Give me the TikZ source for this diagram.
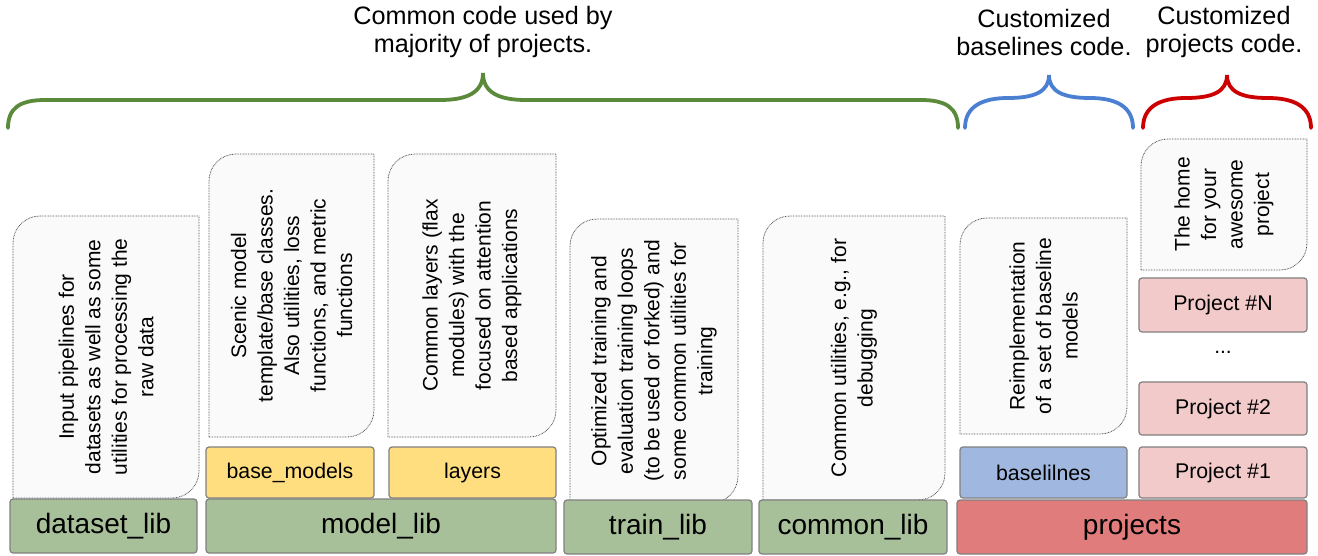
\documentclass[tikz,border=0pt]{standalone}
\usepackage{fontspec}
\setmainfont{Liberation Sans}
\definecolor{libgreen}{HTML}{A8C09A}
\definecolor{subyellow}{HTML}{FFDE80}
\definecolor{subblue}{HTML}{A0B8E0}
\definecolor{subpink}{HTML}{F3CACA}
\definecolor{libred}{HTML}{E07C7C}
\definecolor{boxborder}{HTML}{808080}
\definecolor{bracegreen}{HTML}{5A8A3A}
\definecolor{braceblue}{HTML}{4A7FD2}
\definecolor{bracered}{HTML}{CC0000}
\definecolor{calloutfill}{HTML}{FAFAFA}
\definecolor{calloutline}{HTML}{555555}
\tikzset{
  libbox/.style={draw=boxborder, line width=1.2pt, rounded corners=3pt, inner sep=0pt, outer sep=0pt, text=black},
  mainlib/.style={libbox, font=\fontsize{28}{32}\selectfont},
  sublib/.style={libbox, font=\fontsize{21.3}{25}\selectfont},
  greenbox/.style={mainlib, fill=libgreen},
  redbox/.style={mainlib, fill=libred},
  yellowbox/.style={sublib, fill=subyellow},
  bluebox/.style={sublib, fill=subblue},
  pinkbox/.style={sublib, fill=subpink},
  callout/.style={draw=calloutline, fill=calloutfill, line width=0.8pt, dash pattern=on 0.8pt off 0.8pt},
  callouttext/.style={rotate=90, align=center, inner sep=0pt, font=\fontsize{21}{26.5}\selectfont},
  headtext/.style={align=center, inner sep=0pt, font=\fontsize{25.2}{28}\selectfont},
  bracestyle/.style={line width=3.8pt, line cap=round},
}
\newcommand{\blk}[7]{%
  \pgfmathsetmacro{\myBW}{#5-#3}\pgfmathsetmacro{\myBH}{#6-#4}%
  \node[#2, minimum width=\myBW pt, minimum height=\myBH pt] (#1) at ({(#3+#5)/2},{(#4+#6)/2}) {#7};}
\newcommand{\callbox}[6]{%
  \draw[callout] (#2,#5) -- (#2,{#3+27}) .. controls (#2,{#3+12}) and ({#2+12},#3) .. ({#2+27},#3)
     -- (#4,#3) -- (#4,{#5-27}) .. controls (#4,{#5-12}) and ({#4-12},#5) .. ({#4-27},#5) -- cycle;
  \node[callouttext] (#1) at ({(#2+#4)/2},{(#3+#5)/2}) {#6};}
\begin{document}
\begin{tikzpicture}[x=1pt, y=-1pt]
\useasboundingbox (0,0) rectangle (1318,555);
% header texts
\node[headtext] (hcommon) at (483,32) {Common code used by\\majority of projects.};
\node[headtext] (hbase) at (1044,32) {Customized\\baselines code.};
\node[headtext] (hproj) at (1224,32) {Customized\\projects code.};
% braces
\coordinate (gtip) at (483,73);
\coordinate (btip) at (1049,75);
\coordinate (rtip) at (1227,75);
\draw[bracestyle, draw=bracegreen] (8,128) .. controls (8,108) and (20,100) .. (45,100) -- (440,100)
  .. controls (468,100) and (483,92) .. (gtip) .. controls (483,92) and (498,100) .. (526,100)
  -- (921,100) .. controls (946,100) and (958,108) .. (958,128);
\draw[bracestyle, draw=braceblue] (965,128) .. controls (965,106) and (983,98) .. (1008,98)
  .. controls (1034,98) and (1049,92) .. (btip) .. controls (1049,92) and (1064,98) .. (1090,98)
  .. controls (1115,98) and (1133,106) .. (1133,128);
\draw[bracestyle, draw=bracered] (1143,128) .. controls (1143,106) and (1161,98) .. (1186,98)
  .. controls (1212,98) and (1227,92) .. (rtip) .. controls (1227,92) and (1242,98) .. (1268,98)
  .. controls (1293,98) and (1311,106) .. (1311,128);
% callouts
\callbox{c1}{13}{216}{199}{498}{Input pipelines for\\datasets as well as some\\utilities for processing the\\raw data}
\callbox{c2}{209}{154}{374}{437}{Scenic model\\template/base classes.\\Also utilities, loss\\functions, and metric\\functions}
\callbox{c3}{388}{154}{556}{437}{Common layers (flax\\modules) with the\\focused on attention\\based applications}
\callbox{c4}{570}{219}{738}{503}{Optimized training and\\evaluation training loops\\(to be used or forked) and\\some common utilities for\\training}
\callbox{c5}{763}{216}{945}{500}{Common utilities, e.g., for\\debugging}
\callbox{c6}{960}{218}{1127}{434}{Reimplementation\\of a set of baseline\\models}
\callbox{c7}{1141}{139}{1307}{270}{The home\\for your\\awesome\\project}
% blocks
\blk{dataset}{greenbox}{10}{499}{197}{553}{dataset\_lib}
\blk{model}{greenbox}{206}{499}{556}{553}{model\_lib}
\blk{train}{greenbox}{564}{500}{752}{554}{train\_lib}
\blk{common}{greenbox}{759}{500}{947}{554}{common\_lib}
\blk{projects}{redbox}{957}{500}{1307}{554}{projects}
\blk{basemodels}{yellowbox}{206}{447}{374}{498}{base\_models}
\blk{layers}{yellowbox}{389}{447}{556}{498}{layers}
\blk{baselines}{bluebox}{960}{447}{1127}{498}{baselilnes}
\blk{p1}{pinkbox}{1139}{447}{1307}{498}{Project \#1}
\blk{p2}{pinkbox}{1139}{382}{1307}{435}{Project \#2}
\blk{pn}{pinkbox}{1139}{278}{1307}{332}{Project \#N}
\node[font=\fontsize{21}{25}\selectfont, inner sep=0pt] (dots) at (1223,352) {...};
\end{tikzpicture}
\end{document}
